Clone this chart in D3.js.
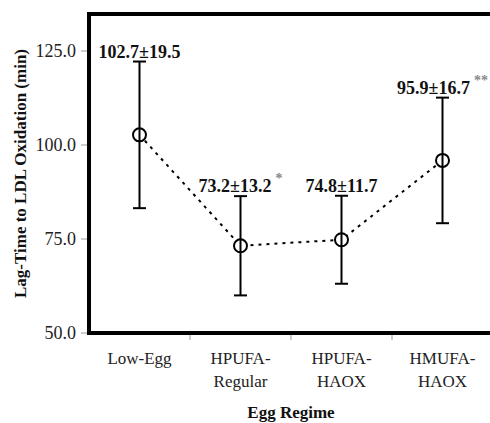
<!DOCTYPE html>
<html>
    <head>
        <meta charset="UTF-8"/>
        <style>
            body { margin: 0; background: #fff; }
            text { font-family: "Liberation Serif", "Times New Roman", serif; }
        </style>
    </head>
    <body>
        <svg width="490" height="423"></svg>
        <script src="https://d3js.org/d3.v7.min.js" type="text/javascript"></script>
        <script>
            // data
            let categories = ["Low-Egg", "HPUFA-Regular", "HPUFA-HAOX", "HMUFA-HAOX"];
            let catLines = [["Low-Egg"], ["HPUFA-", "Regular"], ["HPUFA-", "HAOX"], ["HMUFA-", "HAOX"]];
            let means = [102.7, 73.2, 74.8, 95.9];
            let sds = [19.5, 13.2, 11.7, 16.7];
            let marks = ["", "*", "", "**"];
            let yTicks = [50, 75, 100, 125];

            let svg = d3.select("svg");
            let plotL = 89, plotR = 493, plotT = 14, plotB = 333;

            let x = d3.scaleBand().domain(categories).range([plotL, plotR]);
            let y = d3.scaleLinear().domain([50, 125]).range([plotB, 51]);

            let rows = categories.map(function(c, i) {
                return {cat: c, mean: means[i], sd: sds[i], mark: marks[i], lines: catLines[i]};
            });
            let cx = function(d) { return x(d.cat) + x.bandwidth() / 2; };

            // y ticks
            let yAxis = svg.append("g");
            yAxis.selectAll("line").data(yTicks).enter().append("line")
                .attr("x1", plotL - 8).attr("x2", plotL)
                .attr("y1", function(d) { return y(d); })
                .attr("y2", function(d) { return y(d); })
                .attr("stroke", "#999").attr("stroke-width", 1);
            yAxis.selectAll("text").data(yTicks).enter().append("text")
                .attr("x", 76)
                .attr("y", function(d) { return y(d); })
                .attr("dy", "0.35em")
                .attr("text-anchor", "end")
                .attr("font-size", 18)
                .attr("fill", "#222")
                .text(d3.format(".1f"));

            // x ticks at band boundaries
            let bounds = categories.slice(1).map(function(c) { return x(c); });
            svg.append("g").selectAll("line").data(bounds).enter().append("line")
                .attr("x1", function(d) { return d; }).attr("x2", function(d) { return d; })
                .attr("y1", plotB).attr("y2", plotB + 7)
                .attr("stroke", "#999").attr("stroke-width", 1);

            // category labels
            let cl = svg.append("g").selectAll("text").data(rows).enter().append("text")
                .attr("x", cx)
                .attr("y", 364)
                .attr("text-anchor", "middle")
                .attr("font-size", 17)
                .attr("fill", "#222");
            cl.selectAll("tspan").data(function(d) { return d.lines.map(function(l) { return {l: l, x: cx(d)}; }); })
                .enter().append("tspan")
                .attr("x", function(d) { return d.x; })
                .attr("dy", function(d, i) { return i === 0 ? 0 : 23; })
                .text(function(d) { return d.l; });

            // frame
            svg.append("path")
                .attr("d", "M" + plotR + "," + plotT + "H" + plotL + "V" + plotB + "H" + plotR)
                .attr("fill", "none")
                .attr("stroke", "#000")
                .attr("stroke-width", 4);

            // dotted line between means
            svg.append("path")
                .datum(rows)
                .attr("d", d3.line().x(cx).y(function(d) { return y(d.mean); }))
                .attr("fill", "none")
                .attr("stroke", "#000")
                .attr("stroke-width", 2)
                .attr("stroke-dasharray", "3,5");

            // markers
            svg.append("g").selectAll("circle").data(rows).enter().append("circle")
                .attr("cx", cx)
                .attr("cy", function(d) { return y(d.mean); })
                .attr("r", 6.5)
                .attr("fill", "#fff")
                .attr("stroke", "#000")
                .attr("stroke-width", 2);

            // error bars
            let eb = svg.append("g").attr("stroke", "#000").attr("stroke-width", 2);
            eb.selectAll(".v").data(rows).enter().append("line")
                .attr("x1", cx).attr("x2", cx)
                .attr("y1", function(d) { return y(d.mean - d.sd); })
                .attr("y2", function(d) { return y(d.mean + d.sd); });
            [-1, 1].forEach(function(s) {
                eb.selectAll(".c" + s).data(rows).enter().append("line")
                    .attr("x1", function(d) { return cx(d) - 6.5; })
                    .attr("x2", function(d) { return cx(d) + 6.5; })
                    .attr("y1", function(d) { return y(d.mean + s * d.sd); })
                    .attr("y2", function(d) { return y(d.mean + s * d.sd); });
            });

            // value labels
            let vl = svg.append("g").selectAll("text").data(rows).enter().append("text")
                .attr("x", cx)
                .attr("y", function(d) { return y(d.mean + d.sd) - 4; })
                .attr("text-anchor", "middle")
                .attr("font-size", 18)
                .attr("font-weight", "bold")
                .attr("fill", "#111");
            vl.append("tspan").text(function(d) { return d.mean.toFixed(1) + "±" + d.sd.toFixed(1); });
            vl.append("tspan")
                .attr("dy", -9)
                .attr("dx", 4)
                .attr("font-size", 14)
                .attr("fill", "#888")
                .text(function(d) { return d.mark; });

            // axis titles
            svg.append("text")
                .attr("transform", "translate(20," + ((plotT + plotB) / 2) + ") rotate(-90)")
                .attr("dy", "0.35em")
                .attr("text-anchor", "middle")
                .attr("font-size", 17)
                .attr("font-weight", "bold")
                .attr("fill", "#111")
                .text("Lag-Time to LDL Oxidation (min)");
            svg.append("text")
                .attr("x", (plotL + plotR) / 2)
                .attr("y", 418)
                .attr("text-anchor", "middle")
                .attr("font-size", 17)
                .attr("font-weight", "bold")
                .attr("fill", "#111")
                .text("Egg Regime");
        </script>
    </body>
</html>
